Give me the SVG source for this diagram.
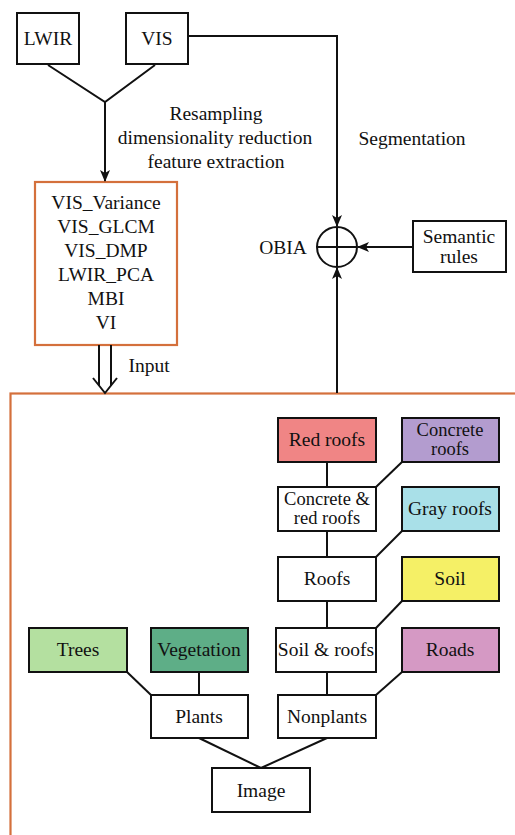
<svg xmlns="http://www.w3.org/2000/svg" width="515" height="835" viewBox="0 0 515 835">
<defs>
<style>
text{font-family:'Liberation Serif','Times New Roman',Times,Tinos,'Noto Serif','DejaVu Serif',FreeSerif,serif;font-size:19.5px;fill:#111;text-anchor:middle}
.sm{font-size:18.5px}
.box{fill:#fff;stroke:#111;stroke-width:2}
.ln{fill:none;stroke:#111;stroke-width:2}
.or{fill:none;stroke:#d4703c;stroke-width:2.2}
</style>
<marker id="ah" viewBox="0 0 12 10" refX="11" refY="5" markerWidth="12" markerHeight="10" markerUnits="userSpaceOnUse" orient="auto">
<path d="M0,0 L12,5 L0,10 L3,5 Z" fill="#111"/>
</marker>
</defs>
<rect width="515" height="835" fill="#fff"/>

<g id="LWIR"><rect class="box" x="17" y="13" width="62" height="51"/><text x="48" y="45">LWIR</text></g>
<g id="VIS"><rect class="box" x="126" y="13" width="62" height="51"/><text x="157" y="45">VIS</text></g>

<g id="features">
<rect class="or" x="35" y="182" width="142" height="163"/>
<text x="106" y="209">VIS_Variance</text>
<text x="106" y="233">VIS_GLCM</text>
<text x="106" y="257">VIS_DMP</text>
<text x="106" y="281">LWIR_PCA</text>
<text x="106" y="305">MBI</text>
<text x="106" y="329">VI</text>
</g>

<g id="OBIA">
<circle class="ln" cx="337" cy="247" r="20"/>
<line class="ln" x1="317" y1="247" x2="357" y2="247"/>
<line class="ln" x1="337" y1="227" x2="337" y2="267"/>
<text x="283" y="254">OBIA</text>
</g>

<g id="semantic"><rect class="box" x="413" y="221" width="93" height="51"/><text x="459" y="243">Semantic</text><text x="459" y="263">rules</text></g>

<g id="classification">
<rect class="or" x="10.5" y="393.5" width="530" height="460"/>
</g>

<g id="redroofs"><rect class="box" x="278" y="418" width="98" height="44" style="fill:#f08585"/><text x="327" y="446">Red roofs</text></g>
<g id="concreteroofs"><rect class="box" x="402" y="418" width="97" height="44" style="fill:#b39ccf"/><text class="sm" x="450" y="436">Concrete</text><text class="sm" x="450" y="455">roofs</text></g>
<g id="concretered"><rect class="box" x="278" y="487" width="98" height="44"/><text class="sm" x="327" y="505">Concrete &amp;</text><text class="sm" x="327" y="524">red roofs</text></g>
<g id="grayroofs"><rect class="box" x="402" y="487" width="97" height="44" style="fill:#a9e0e8"/><text x="450" y="515">Gray roofs</text></g>
<g id="roofs"><rect class="box" x="278" y="557" width="98" height="44"/><text x="327" y="585">Roofs</text></g>
<g id="soil"><rect class="box" x="402" y="557" width="97" height="44" style="fill:#f5f066"/><text x="450" y="585">Soil</text></g>
<g id="trees"><rect class="box" x="29" y="628" width="98" height="44" style="fill:#b4e0a0"/><text x="78" y="656">Trees</text></g>
<g id="vegetation"><rect class="box" x="151" y="628" width="97" height="44" style="fill:#5eae87"/><text x="199" y="656">Vegetation</text></g>
<g id="soilroofs"><rect class="box" x="276" y="628" width="100" height="44"/><text x="326" y="656">Soil &amp; roofs</text></g>
<g id="roads"><rect class="box" x="402" y="628" width="97" height="44" style="fill:#d599c4"/><text x="450" y="656">Roads</text></g>
<g id="plants"><rect class="box" x="151" y="695" width="97" height="43"/><text x="199" y="723">Plants</text></g>
<g id="nonplants"><rect class="box" x="278" y="695" width="98" height="43"/><text x="327" y="723">Nonplants</text></g>
<g id="image"><rect class="box" x="212" y="768" width="98" height="44"/><text x="261" y="797">Image</text></g>

<g id="connectors">
<polyline class="ln" points="48,65 105,102 155,65"/>
<line class="ln" x1="105" y1="102" x2="105" y2="181" marker-end="url(#ah)"/>
<polyline class="ln" points="188,36 337,36 337,226" marker-end="url(#ah)"/>
<line class="ln" x1="337" y1="393" x2="337" y2="268" marker-end="url(#ah)"/>
<line class="ln" x1="413" y1="247" x2="358" y2="247" marker-end="url(#ah)"/>
<line class="ln" x1="99" y1="345" x2="99" y2="386"/>
<line class="ln" x1="111" y1="345" x2="111" y2="386"/>
<polyline class="ln" points="93,378 105,393 117,378"/>
<line class="ln" x1="327" y1="462" x2="327" y2="487"/>
<line class="ln" x1="402" y1="462" x2="376" y2="487"/>
<line class="ln" x1="327" y1="531" x2="327" y2="557"/>
<line class="ln" x1="402" y1="531" x2="376" y2="557"/>
<line class="ln" x1="327" y1="601" x2="327" y2="628"/>
<line class="ln" x1="402" y1="601" x2="376" y2="628"/>
<line class="ln" x1="127" y1="672" x2="151" y2="695"/>
<line class="ln" x1="199" y1="672" x2="199" y2="695"/>
<line class="ln" x1="327" y1="672" x2="327" y2="695"/>
<line class="ln" x1="402" y1="672" x2="376" y2="695"/>
<line class="ln" x1="199" y1="738" x2="261" y2="768"/>
<line class="ln" x1="327" y1="738" x2="261" y2="768"/>
</g>

<g id="labels">
<text x="216" y="120">Resampling</text>
<text x="215" y="144">dimensionality reduction</text>
<text x="216" y="168">feature extraction</text>
<text x="412" y="145">Segmentation</text>
<text x="149" y="372">Input</text>
</g>
</svg>
